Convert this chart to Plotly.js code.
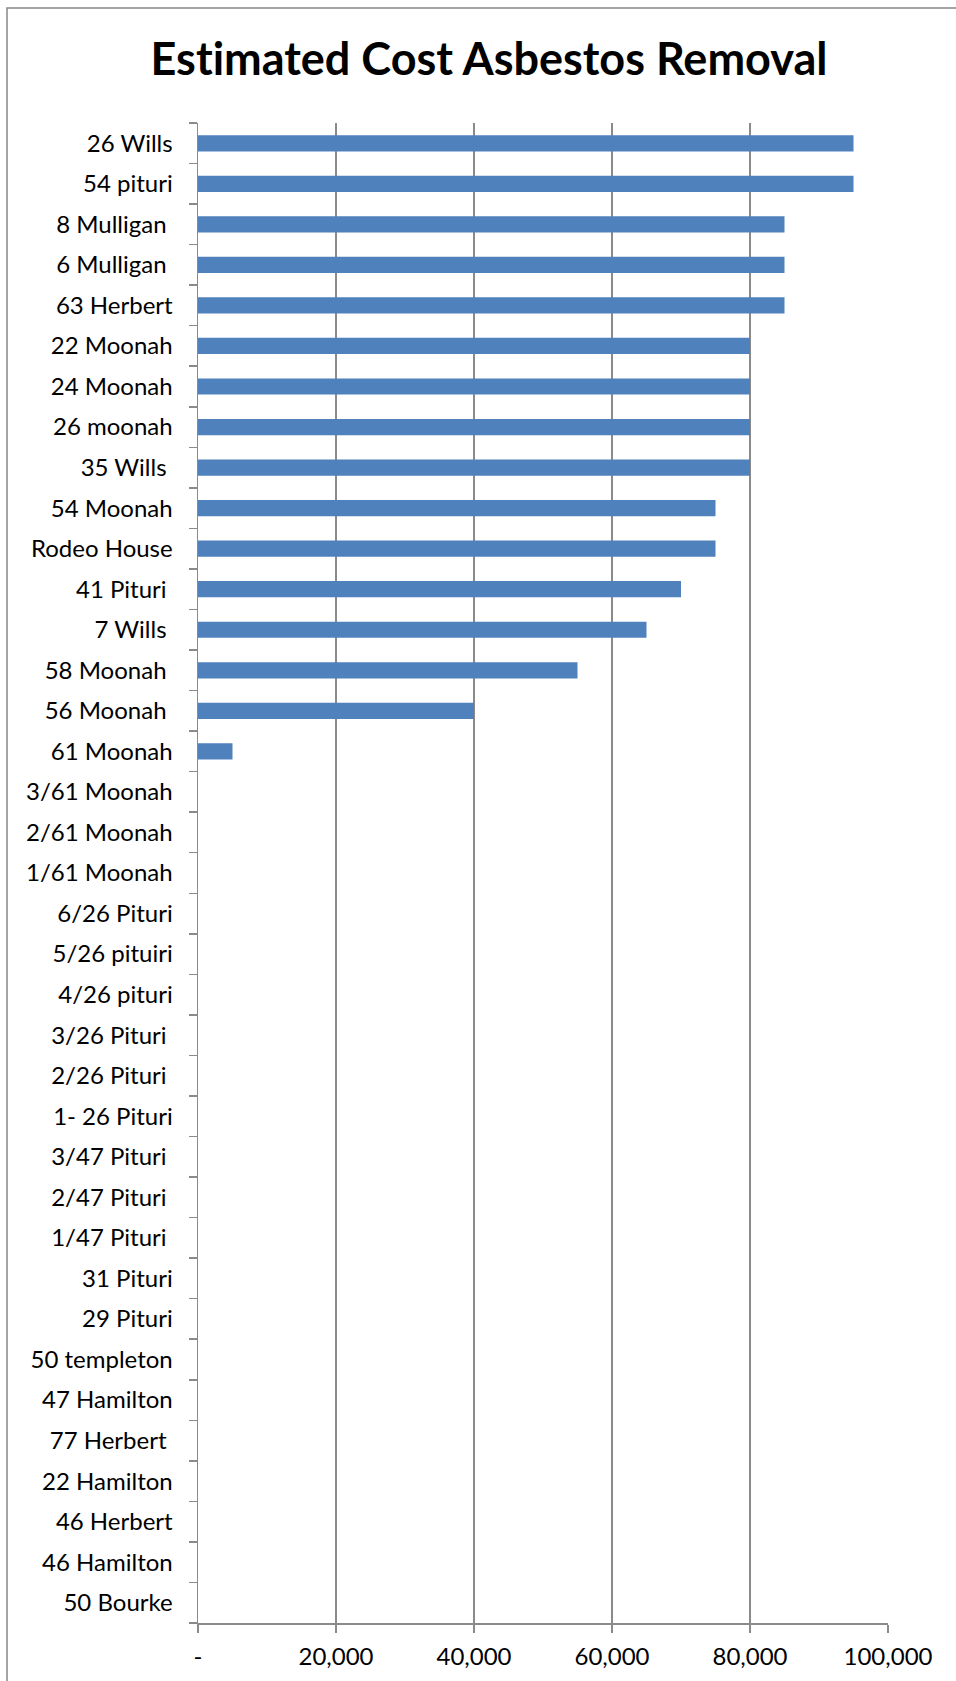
<!DOCTYPE html>
<html>
<head>
<meta charset="utf-8">
<script src="https://cdn.plot.ly/plotly-3.0.1.min.js"></script>
<style>
  html, body { margin: 0; padding: 0; background: #ffffff; }
  #chart { width: 956px; height: 1681px; }
  #chart svg text { font-variant-ligatures: none; font-feature-settings: "liga" 0; }
</style>
</head>
<body>
<div id="chart"></div>
<script>
// Properties, top to bottom as listed
const properties = [
  "26 Wills", "54 pituri", "8 Mulligan ", "6 Mulligan ", "63 Herbert",
  "22 Moonah", "24 Moonah", "26 moonah", "35 Wills ", "54 Moonah",
  "Rodeo House", "41 Pituri ", "7 Wills ", "58 Moonah ", "56 Moonah ",
  "61 Moonah", "3/61 Moonah", "2/61 Moonah", "1/61 Moonah", "6/26 Pituri",
  "5/26 pituiri", "4/26 pituri", "3/26 Pituri ", "2/26 Pituri ", "1- 26 Pituri",
  "3/47 Pituri ", "2/47 Pituri ", "1/47 Pituri ", "31 Pituri", "29 Pituri",
  "50 templeton", "47 Hamilton", "77 Herbert ", "22 Hamilton", "46 Herbert",
  "46 Hamilton", "50 Bourke"
];

// Estimated removal cost for each property
const estimatedCost = [
  95000, 95000, 85000, 85000, 85000,
  80000, 80000, 80000, 80000, 75000,
  75000, 70000, 65000, 55000, 40000,
  5000, 0, 0, 0, 0,
  0, 0, 0, 0, 0,
  0, 0, 0, 0, 0,
  0, 0, 0, 0, 0,
  0, 0
];

// Value axis ticks
const costTickValues = [0, 20000, 40000, 60000, 80000, 100000];
const costTickLabels = ["-", "20,000", "40,000", "60,000", "80,000", "100,000"];

// SVG drops trailing spaces, so keep them as non-breaking spaces
const propertyLabels = properties.map(s => s.replace(/ +$/, m => "\u00a0".repeat(m.length)));

const W = 956, H = 1681;
const margin = { l: 198, r: 68, t: 123, b: 58, pad: 0 };
const plotW = W - margin.l - margin.r;
const plotH = H - margin.t - margin.b;
const gridGray = "#8a8a8a";
const labelFont = { family: "Lato, 'Open Sans', sans-serif", size: 24, color: "#000000" };

const trace = {
  type: "bar",
  orientation: "h",
  x: estimatedCost,
  y: properties,
  marker: { color: "#4F81BD", line: { width: 0 } },
  hoverinfo: "skip"
};

// Outer chart frame (left and top edges show within the page)
const frame = {
  type: "rect",
  xref: "paper", yref: "paper",
  x0: (7 - margin.l) / plotW,
  x1: (W + 20 - margin.l) / plotW,
  y0: -(margin.b + 20) / plotH,
  y1: 1 + (margin.t - 8) / plotH,
  line: { color: "#878787", width: 1.5 },
  fillcolor: "rgba(0,0,0,0)",
  layer: "below"
};

const layout = {
  width: W,
  height: H,
  margin: margin,
  paper_bgcolor: "#ffffff",
  plot_bgcolor: "#ffffff",
  showlegend: false,
  bargap: 0.6,
  title: {
    text: "Estimated Cost Asbestos Removal",
    font: { family: "Lato, 'Open Sans', sans-serif", size: 45, color: "#000000", weight: 700 },
    x: 489 / W,
    xanchor: "center",
    xref: "container",
    y: 1 - 59 / H,
    yanchor: "middle",
    yref: "container"
  },
  xaxis: {
    range: [0, 100000],
    tickmode: "array",
    tickvals: costTickValues,
    ticktext: costTickLabels,
    showgrid: true,
    gridcolor: gridGray,
    gridwidth: 1.5,
    zeroline: false,
    showline: true,
    linecolor: gridGray,
    linewidth: 1.5,
    ticks: "outside",
    ticklen: 8,
    tickwidth: 1.5,
    tickcolor: gridGray,
    ticklabelstandoff: 4,
    tickfont: labelFont,
    fixedrange: true
  },
  yaxis: {
    type: "category",
    autorange: "reversed",
    tickmode: "array",
    tickvals: properties,
    ticktext: propertyLabels,
    tickson: "boundaries",
    showgrid: false,
    zeroline: false,
    showline: true,
    linecolor: gridGray,
    linewidth: 1.5,
    ticks: "outside",
    ticklen: 8,
    tickwidth: 1.5,
    tickcolor: gridGray,
    ticklabelstandoff: 19,
    tickfont: labelFont,
    fixedrange: true
  },
  shapes: [frame]
};

Plotly.newPlot("chart", [trace], layout, { staticPlot: true, displayModeBar: false });
</script>
</body>
</html>
